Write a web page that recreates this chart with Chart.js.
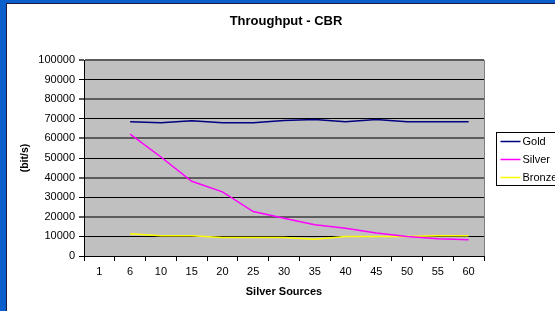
<!DOCTYPE html>
<html>
<head>
<meta charset="utf-8">
<title>Throughput - CBR</title>
<script src="https://cdn.jsdelivr.net/npm/chart.js@4/dist/chart.umd.min.js"></script>
<style>
  html, body { margin: 0; padding: 0; background: #ffffff; overflow: hidden; }
  #wrap { width: 555px; height: 311px; }
  canvas { display: block; }
</style>
</head>
<body>
<div id="wrap"><canvas id="throughputChart" width="555" height="311"></canvas></div>
<script>
// Chart data
const sources = ['1', '6', '10', '15', '20', '25', '30', '35', '40', '45', '50', '55', '60'];
const gold = [null, 68500, 68000, 69000, 68000, 68000, 69100, 69600, 68500, 69600, 68500, 68500, 68500];
const silver = [null, 62200, 50500, 38100, 32700, 22700, 19300, 15900, 14100, 11700, 10000, 8800, 8300];
const bronze = [null, 11400, 10300, 10300, 9500, 9500, 9500, 8600, 10000, 10000, 10000, 10300, 10300];
const yTicks = [0, 10000, 20000, 30000, 40000, 50000, 60000, 70000, 80000, 90000, 100000];

const FONT = "'Liberation Sans', Arial, sans-serif";

// slide background, white chart sheet and grey plot area
const backgroundPlugin = {
    id: 'sheet',
    beforeDraw(chart) {
        const { ctx, chartArea: a, width, height } = chart;
        ctx.save();
        ctx.fillStyle = '#0b5fcc';
        ctx.fillRect(0, 0, width, height);
        ctx.fillStyle = '#1a1a40';
        ctx.fillRect(6, 3, width - 6, height - 3);
        ctx.fillStyle = '#ffffff';
        ctx.fillRect(7, 4, width - 7, height - 4);
        ctx.fillStyle = '#c0c0c0';
        ctx.fillRect(a.left, a.top, a.right - a.left, a.bottom - a.top);
        ctx.restore();
    },
    afterDatasetsDraw(chart) {
        const { ctx, chartArea: a } = chart;
        ctx.save();
        ctx.strokeStyle = '#808080';
        ctx.lineWidth = 1;
        ctx.beginPath();
        ctx.moveTo(a.right + 0.5, a.top);
        ctx.lineTo(a.right + 0.5, a.bottom);
        ctx.stroke();
        ctx.restore();
    }
};

// Excel style boxed legend to the right of the plot
const boxLegendPlugin = {
    id: 'boxLegend',
    afterDraw(chart) {
        const { ctx, chartArea: a } = chart;
        const x = a.right + 12.5, y = a.top + 72.5;
        ctx.save();
        ctx.fillStyle = '#ffffff';
        ctx.fillRect(x, y, 70, 53);
        ctx.strokeStyle = '#000000';
        ctx.lineWidth = 1;
        ctx.strokeRect(x, y, 70, 53);
        ctx.font = '11px ' + FONT;
        ctx.textBaseline = 'middle';
        chart.data.datasets.forEach((ds, i) => {
            const ly = y + 9 + i * 18;
            ctx.strokeStyle = ds.borderColor;
            ctx.lineWidth = 1.5;
            ctx.beginPath();
            ctx.moveTo(x + 4, ly);
            ctx.lineTo(x + 24, ly);
            ctx.stroke();
            ctx.fillStyle = '#000000';
            ctx.fillText(ds.label, x + 26, ly + 0.5);
        });
        ctx.restore();
    }
};

const ctx = document.getElementById('throughputChart').getContext('2d');
new Chart(ctx, {
    type: 'line',
    data: {
        labels: sources,
        datasets: [
            { label: 'Gold', data: gold, borderColor: '#000080', borderWidth: 1.5 },
            { label: 'Silver', data: silver, borderColor: '#ff00ff', borderWidth: 1.5 },
            { label: 'Bronze', data: bronze, borderColor: '#ffff00', borderWidth: 1.5 }
        ]
    },
    options: {
        responsive: false,
        animation: false,
        layout: { padding: { left: 17, right: 0, top: 0, bottom: 0 } },
        elements: { point: { radius: 0 }, line: { tension: 0 } },
        plugins: {
            legend: { display: false },
            tooltip: { enabled: false },
            title: {
                display: true,
                text: 'Throughput - CBR',
                color: '#000000',
                font: { family: FONT, size: 13, weight: 'bold' },
                padding: { top: 14, bottom: 30.4 }
            }
        },
        scales: {
            x: {
                offset: true,
                grid: { offset: true, drawOnChartArea: false, drawTicks: true, tickLength: 5, color: '#000000' },
                border: { color: '#000000', width: 1 },
                ticks: { color: '#000000', font: { family: FONT, size: 11 }, padding: 4, maxRotation: 0, autoSkip: false },
                title: {
                    display: true,
                    text: 'Silver Sources',
                    color: '#000000',
                    font: { family: FONT, size: 11, weight: 'bold' },
                    padding: { top: 0, bottom: 12 }
                },
                afterFit(scale) { scale.height = 55; }
            },
            y: {
                min: 0,
                max: 100000,
                afterBuildTicks(scale) { scale.ticks = yTicks.map(v => ({ value: v })); },
                grid: {
                    drawTicks: true,
                    tickLength: 5,
                    color: (c) => (c.tick && c.tick.value % 20000 === 0 && c.tick.value > 0) ? '#5c5c5c' : '#000000',
                    lineWidth: (c) => (c.tick && c.tick.value % 20000 === 0 && c.tick.value > 0) ? 2 : 1
                },
                border: { color: '#000000', width: 1 },
                ticks: {
                    color: '#000000',
                    font: { family: FONT, size: 11 },
                    padding: 4,
                    callback: (value) => String(value)
                },
                title: {
                    display: true,
                    text: '(bit/s)',
                    color: '#000000',
                    font: { family: FONT, size: 10.5, weight: 'bold' },
                    padding: { top: 2, bottom: 0 }
                },
                afterFit(scale) { scale.width = 67; }
            },
            spacer: {
                position: 'right',
                display: true,
                grid: { display: false, drawTicks: false },
                border: { display: false },
                ticks: { display: false },
                afterFit(scale) { scale.width = 71; }
            }
        }
    },
    plugins: [backgroundPlugin, boxLegendPlugin]
});
</script>
</body>
</html>
